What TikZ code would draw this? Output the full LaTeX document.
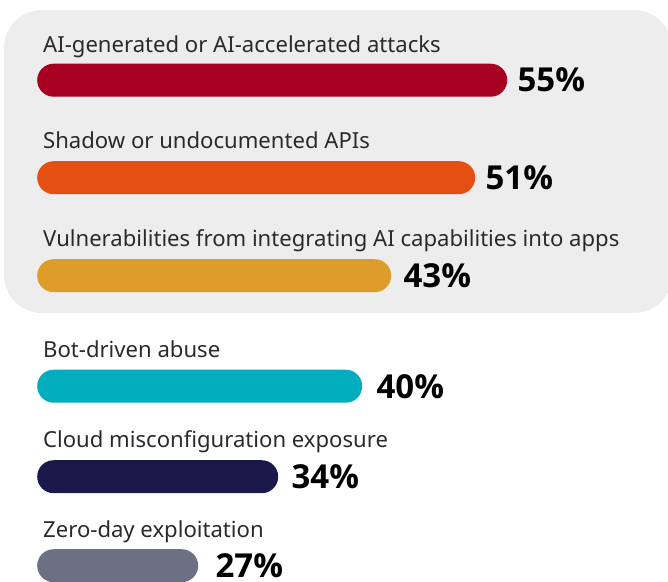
\documentclass[tikz,border=0pt]{standalone}
\usepackage{fontspec}
\setmainfont{Noto Sans}
\newfontfamily\pctfont{Open Sans}
\definecolor{panelgray}{HTML}{EDEDED}
\definecolor{labelink}{HTML}{2A2A2E}
\definecolor{barA}{HTML}{A80020}
\definecolor{barB}{HTML}{E55012}
\definecolor{barC}{HTML}{DE9C28}
\definecolor{barD}{HTML}{00AEBD}
\definecolor{barE}{HTML}{1B184B}
\definecolor{barF}{HTML}{6B7084}
\begin{document}
\begin{tikzpicture}[x=1pt, y=-1pt,
  bar/.style={rounded corners=16.5pt, minimum height=33pt, inner sep=0pt,
    anchor=north west, draw=none},
  label/.style={anchor=base west, inner sep=0pt, text=labelink,
    font=\fontsize{22.1}{26}\selectfont},
  pct/.style={anchor=west, inner sep=0pt, text=black,
    font=\pctfont\bfseries\fontsize{33}{38}\selectfont}]
  \useasboundingbox (0,0) rectangle (668,581);
  % highlighted group
  \fill[panelgray, rounded corners=38pt] (4,10) rectangle (672,313);

  % AI-generated attacks
  \node[label] (l1) at (43,52) {AI-generated or AI-accelerated attacks};
  \node[bar, fill=barA, minimum width=470pt] (b1) at (37,63.5) {};
  \node[pct] (p1) at ([xshift=10pt]b1.east) {55\%};

  % Shadow APIs
  \node[label] (l2) at (43,148) {Shadow or undocumented APIs};
  \node[bar, fill=barB, minimum width=438pt] (b2) at (37,161) {};
  \node[pct] (p2) at ([xshift=10pt]b2.east) {51\%};

  % AI integration
  \node[label] (l3) at (43,246) {Vulnerabilities from integrating AI capabilities into apps};
  \node[bar, fill=barC, minimum width=354pt] (b3) at (37,259) {};
  \node[pct] (p3) at ([xshift=12pt]b3.east) {43\%};

  % Bot abuse
  \node[label] (l4) at (43,357) {Bot-driven abuse};
  \node[bar, fill=barD, minimum width=325pt] (b4) at (37,369.5) {};
  \node[pct] (p4) at ([xshift=14pt]b4.east) {40\%};

  % Cloud misconfiguration
  \node[label] (l5) at (43,447) {Cloud misconfiguration exposure};
  \node[bar, fill=barE, minimum width=241pt] (b5) at (37,460) {};
  \node[pct] (p5) at ([xshift=13pt]b5.east) {34\%};

  % Zero-day
  \node[label] (l6) at (43,537) {Zero-day exploitation};
  \node[bar, fill=barF, minimum width=161pt] (b6) at (37,549) {};
  \node[pct] (p6) at ([xshift=17pt]b6.east) {27\%};
\end{tikzpicture}
\end{document}
